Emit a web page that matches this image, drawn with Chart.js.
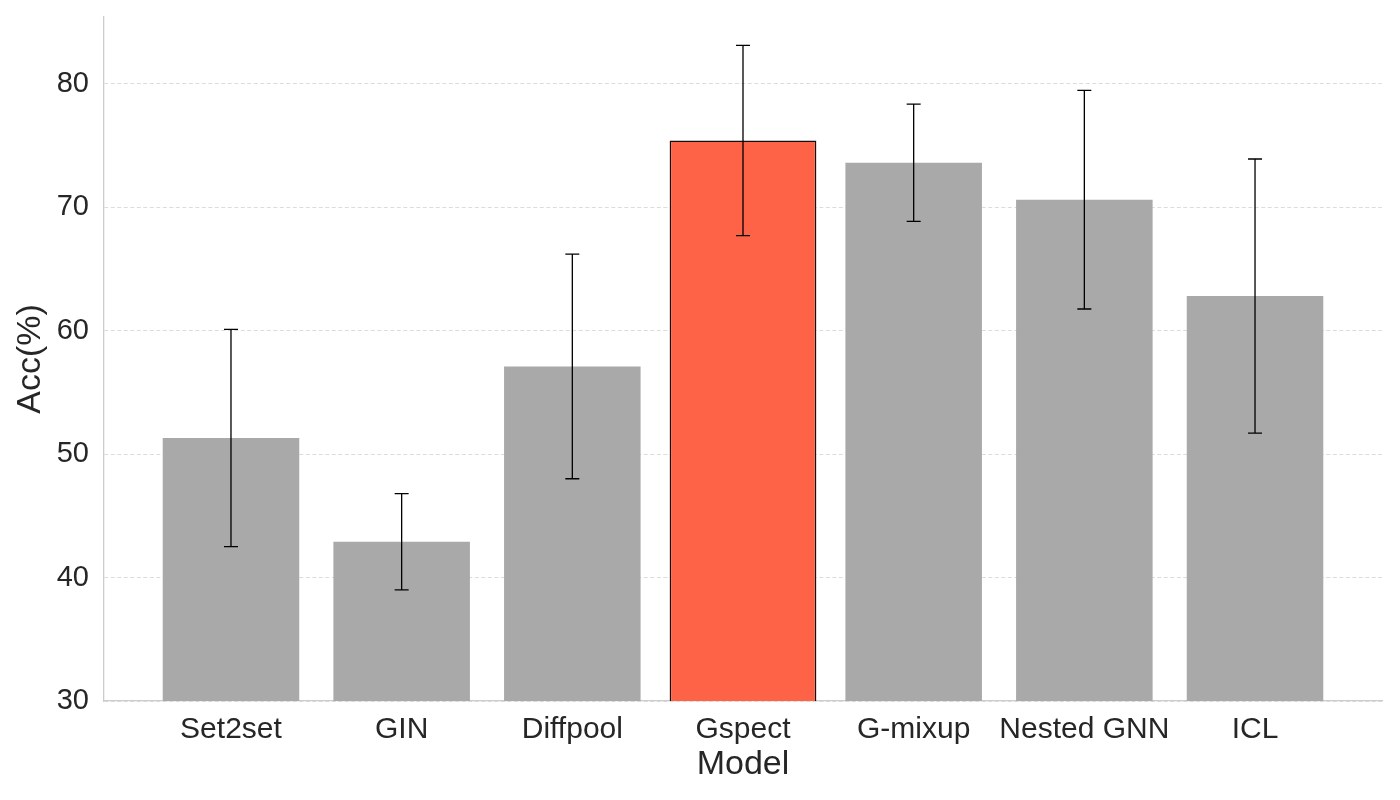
<!DOCTYPE html>
<html>
<head>
<meta charset="utf-8">
<script src="https://cdn.jsdelivr.net/npm/chart.js@4"></script>
<style>
  html, body { margin: 0; padding: 0; background: #fff; }
  #stage { display: block; }
</style>
</head>
<body>
<canvas id="stage" width="1400" height="800"></canvas>
<script>
const models = ['Set2set', 'GIN', 'Diffpool', 'Gspect', 'G-mixup', 'Nested GNN', 'ICL'];
const accs = [51.3, 42.9, 57.1, 75.4, 73.6, 70.6, 62.8];
const errs = [8.8, 3.9, 9.1, 7.7, 4.75, 8.85, 11.1];
const yTicks = [30, 40, 50, 60, 70, 80];
const best = 'Gspect';

const textColor = '#262626';
const fontFam = '"Liberation Sans", Arial, sans-serif';

// bars as {x,y} so the x axis can be linear (matplotlib style margins)
const grayPts = [];
const bestPts = [];
for (var i = 0; i < models.length; ++i) {
    if (models[i] == best) bestPts.push({x: i, y: accs[i]});
    else grayPts.push({x: i, y: accs[i]});
}

// error bars drawn through the chart scales
const errorBars = {
    id: 'errorBars',
    afterDatasetsDraw(chart) {
        const ctx = chart.ctx;
        const xs = chart.scales.x;
        const ys = chart.scales.y;
        ctx.save();
        ctx.strokeStyle = '#000';
        ctx.lineWidth = 1.3;
        for (var i = 0; i < accs.length; ++i) {
            const x = xs.getPixelForValue(i);
            const yTop = ys.getPixelForValue(accs[i] + errs[i]);
            const yBot = ys.getPixelForValue(accs[i] - errs[i]);
            ctx.beginPath();
            ctx.moveTo(x, yTop); ctx.lineTo(x, yBot);
            ctx.moveTo(x - 7, yTop); ctx.lineTo(x + 7, yTop);
            ctx.moveTo(x - 7, yBot); ctx.lineTo(x + 7, yBot);
            ctx.stroke();
        }
        ctx.restore();
    }
};

new Chart(document.getElementById('stage'), {
    type: 'bar',
    data: {
        datasets: [
            {
                data: grayPts,
                backgroundColor: '#a9a9a9',
                borderWidth: 0,
                barPercentage: 0.8,
                categoryPercentage: 1,
                grouped: false
            },
            {
                data: bestPts,
                backgroundColor: '#ff6347',
                borderColor: '#111',
                borderWidth: 1.5,
                barPercentage: 0.86,
                categoryPercentage: 1,
                grouped: false
            }
        ]
    },
    options: {
        responsive: false,
        devicePixelRatio: 1,
        animation: false,
        layout: { padding: { top: 17, right: 18, left: 0, bottom: 0 } },
        plugins: { legend: { display: false }, tooltip: { enabled: false } },
        scales: {
            x: {
                type: 'linear',
                offset: false,
                min: -0.744,
                max: 6.744,
                afterBuildTicks: (scale) => { scale.ticks = models.map((m, i) => ({value: i})); },
                afterFit: (scale) => {
                    scale.height = 99;
                    scale.paddingLeft = 0;
                    scale.paddingRight = 0;
                },
                grid: { display: false, offset: false },
                border: { color: '#cccccc', width: 1.3 },
                ticks: {
                    callback: (v) => models[v],
                    color: textColor,
                    font: { family: fontFam, size: 30 },
                    padding: 3,
                    maxRotation: 0,
                    autoSkip: false
                },
                title: {
                    display: true,
                    text: 'Model',
                    color: textColor,
                    font: { family: fontFam, size: 34 },
                    padding: { top: 0, bottom: 15 }
                }
            },
            y: {
                min: 30,
                max: 85.4,
                afterBuildTicks: (scale) => { scale.ticks = yTicks.map(v => ({value: v})); },
                afterFit: (scale) => {
                    scale.width = 104;
                    scale.paddingTop = 0;
                    scale.paddingBottom = 0;
                },
                grid: { color: '#dcdcdc', lineWidth: 1, drawTicks: false },
                border: { color: '#cccccc', width: 1.3, dash: [4, 2.5] },
                ticks: {
                    color: textColor,
                    font: { family: fontFam, size: 29 },
                    padding: 15
                },
                title: {
                    display: true,
                    text: 'Acc(%)',
                    color: textColor,
                    font: { family: fontFam, size: 34 },
                    padding: { top: 10, bottom: 0 }
                }
            }
        }
    },
    plugins: [errorBars]
});
</script>
</body>
</html>
